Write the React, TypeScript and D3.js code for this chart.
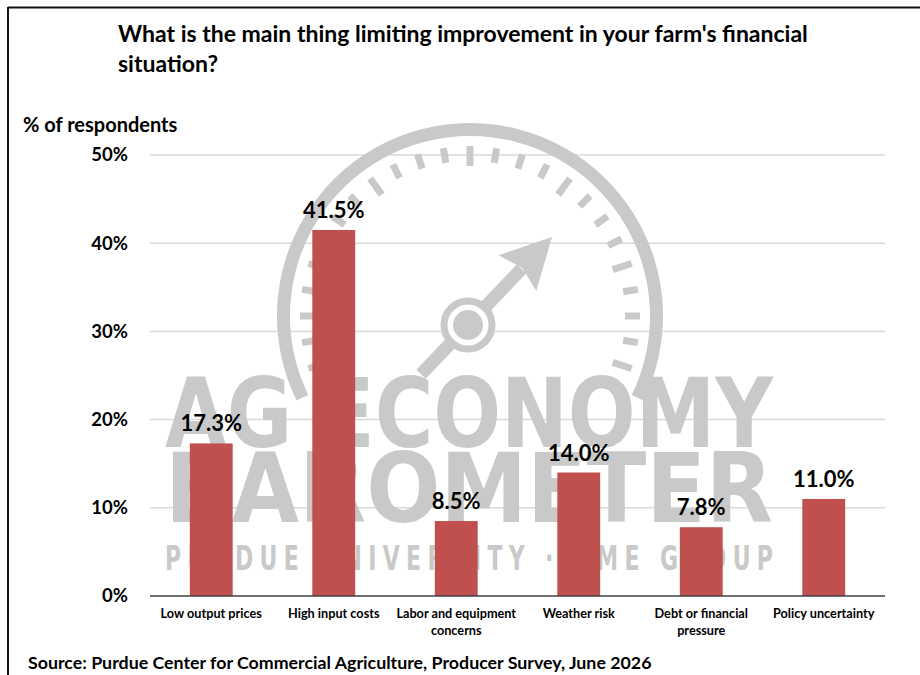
import React from "react";
import * as d3 from "d3";

const categories = [
  "Low output prices",
  "High input costs",
  "Labor and equipment concerns",
  "Weather risk",
  "Debt or financial pressure",
  "Policy uncertainty",
];
const categoryLines = [
  ["Low output prices"],
  ["High input costs"],
  ["Labor and equipment", "concerns"],
  ["Weather risk"],
  ["Debt or financial", "pressure"],
  ["Policy uncertainty"],
];
const values = [17.3, 41.5, 8.5, 14.0, 7.8, 11.0];
const yTicks = [0, 10, 20, 30, 40, 50];

const titleLines = [
  "What is the main thing limiting improvement in your farm's financial",
  "situation?",
];
const yAxisTitle = "% of respondents";
const sourceText =
  "Source: Purdue Center for Commercial Agriculture, Producer Survey, June 2026";

const W = 920;
const H = 675;
const FONT = "Lato, 'Open Sans', sans-serif";
const WMFONT = "'Liberation Sans Narrow', 'DejaVu Sans Condensed', sans-serif";
const BAR = "#C0504D";
const WM = "#c9c9c9";

function Watermark() {
  const cx = 470;
  const cy = 316;
  const ringArc = d3
    .arc<any>()
    .innerRadius(180)
    .outerRadius(193)
    .startAngle((-116 * Math.PI) / 180)
    .endAngle((116 * Math.PI) / 180);
  const dashes: React.ReactNode[] = [];
  const n = 25;
  for (let i = 0; i < n; i++) {
    const deg = -108 + (216 * i) / (n - 1);
    const major = i % 4 === 0;
    const r1 = major ? 150 : 155;
    const r2 = 170;
    dashes.push(
      <rect
        key={i}
        x={-3.5}
        y={-r2}
        width={7}
        height={r2 - r1}
        fill={WM}
        transform={`translate(${cx},${cy}) rotate(${deg})`}
      />
    );
  }
  const px = 468;
  const py = 325;
  const tip = [552, 237];
  const ang = Math.atan2(tip[1] - py, tip[0] - px);
  const deg = (ang * 180) / Math.PI;
  const len = Math.hypot(tip[0] - px, tip[1] - py);
  const sx = 0.72;
  return (
    <g>
      <path d={ringArc(null) || ""} transform={`translate(${cx},${cy})`} fill={WM} />
      {dashes}
      <g transform={`translate(${px},${py}) rotate(${deg})`}>
        <rect x={-68} y={-6.5} width={68 + len - 44} height={13} fill={WM} />
        <path d={`M${len},0 L${len - 50},-26 L${len - 43},0 L${len - 50},26 Z`} fill={WM} />
      </g>
      <circle cx={px} cy={py} r={24} fill="#fff" stroke={WM} strokeWidth={7} />
      <circle cx={px} cy={py} r={15} fill={WM} />
      <text
        x={165}
        y={447}
        textLength={608}
        lengthAdjust="spacingAndGlyphs"
        fontFamily={WMFONT}
        fontWeight="bold"
        fontSize={97}
        fill={WM}
      >
        AG ECONOMY
      </text>
      <text
        x={165}
        y={522}
        textLength={608}
        lengthAdjust="spacingAndGlyphs"
        fontFamily={WMFONT}
        fontWeight="bold"
        fontSize={97}
        fill={WM}
      >
        BAROMETER
      </text>
      <text
        transform={`translate(165,570) scale(${sx},1)`}
        x={0}
        y={0}
        textLength={608 / sx}
        lengthAdjust="spacing"
        fontFamily={WMFONT}
        fontWeight="bold"
        fontSize={34}
        fill={WM}
      >
        PURDUE UNIVERSITY · CME GROUP
      </text>
    </g>
  );
}

export default function App() {
  const x = d3.scaleBand<string>().domain(categories).range([150, 885]).paddingInner(0.65).paddingOuter(0.325);
  const y = d3.scaleLinear().domain([0, 50]).range([596, 155]);

  return (
    <svg
      width={W}
      height={H}
      viewBox={`0 0 ${W} ${H}`}
      style={{ position: "absolute", left: 0, top: 0, background: "#fff" }}
    >
      <rect x={0} y={0} width={W} height={H} fill="#fff" />
      <line x1={8} y1={7.5} x2={W} y2={7.5} stroke="#111" strokeWidth={2} />
      <line x1={8} y1={7} x2={8} y2={H} stroke="#111" strokeWidth={2} />

      {titleLines.map((t, i) => (
        <text key={i} x={118} y={42 + i * 30} fontFamily={FONT} fontWeight="bold" fontSize={23} fill="#000">
          {t}
        </text>
      ))}
      <text x={23} y={132} fontFamily={FONT} fontWeight="bold" fontSize={20} fill="#000">
        {yAxisTitle}
      </text>

      {yTicks.filter((t) => t > 0).map((t) => (
        <line key={t} x1={150} x2={885} y1={y(t)} y2={y(t)} stroke="#d9d9d9" strokeWidth={1.5} />
      ))}

      <Watermark />

      {yTicks.map((t) => (
        <text
          key={t}
          x={128}
          y={y(t)}
          dy="0.35em"
          textAnchor="end"
          fontFamily={FONT}
          fontWeight="bold"
          fontSize={18.5}
          fill="#000"
        >
          {t}%
        </text>
      ))}

      {categories.map((c, i) => (
        <rect key={c} x={x(c)} y={y(values[i])} width={x.bandwidth()} height={y(0) - y(values[i])} fill={BAR} />
      ))}

      <line x1={150} x2={885} y1={y(0)} y2={y(0)} stroke="#404040" strokeWidth={1.5} />

      {categories.map((c, i) => (
        <text
          key={c}
          x={(x(c) as number) + x.bandwidth() / 2}
          y={y(values[i]) - 12}
          textAnchor="middle"
          fontFamily={FONT}
          fontWeight="bold"
          fontSize={22}
          fill="#000"
        >
          {values[i].toFixed(1)}%
        </text>
      ))}

      {categories.map((c, i) => (
        <text
          key={c}
          x={(x(c) as number) + x.bandwidth() / 2}
          textAnchor="middle"
          fontFamily={FONT}
          fontWeight="bold"
          fontSize={12.7}
          fill="#000"
        >
          {categoryLines[i].map((l, j) => (
            <tspan key={j} x={(x(c) as number) + x.bandwidth() / 2} y={618 + j * 16.5}>
              {l}
            </tspan>
          ))}
        </text>
      ))}

      <text x={28} y={669} fontFamily={FONT} fontWeight="bold" fontSize={17.8} fill="#000">
        {sourceText}
      </text>
    </svg>
  );
}
